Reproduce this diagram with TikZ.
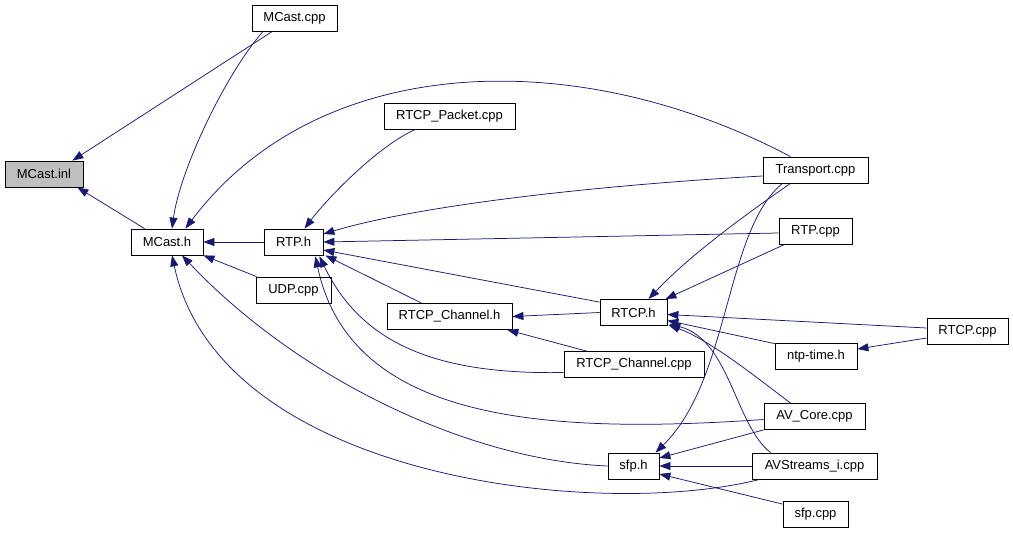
\documentclass[tikz,border=0pt]{standalone}
\usepackage{fontspec}
\setmainfont{Liberation Sans}
\usepackage{tikz}
\usetikzlibrary{arrows.meta, calc}
\definecolor{edgeblue}{RGB}{25,25,112}
\definecolor{boxgray}{RGB}{191,191,191}

\begin{document}
\begin{tikzpicture}[x=1pt, y=-1pt,
    file/.style={draw, line width=0.8pt, minimum height=26pt, inner sep=0pt, font=\fontsize{13}{15}\selectfont},
    dep/.style={draw=edgeblue, line width=0.75pt, -{Triangle[length=11pt, width=8pt]}}
]
\useasboundingbox (0,0) rectangle (1013,536);

% Files
\node[file, fill=boxgray, minimum width=78pt] (inl) at (44,174) {MCast.inl};
\node[file, minimum width=85pt] (mcpp) at (294.5,18.5) {MCast.cpp};
\node[file, minimum width=72pt] (mh) at (167,242) {MCast.h};
\node[file, minimum width=59pt] (rtph) at (293.5,242) {RTP.h};
\node[file, minimum width=131pt] (pkt) at (449.5,116.5) {RTCP\_Packet.cpp};
\node[file, minimum width=75pt] (udp) at (293.5,290) {UDP.cpp};
\node[file, minimum width=125pt] (chh) at (449.5,316.5) {RTCP\_Channel.h};
\node[file, minimum width=140pt] (chcpp) at (634,364.5) {RTCP\_Channel.cpp};
\node[file, minimum width=67pt] (rtcph) at (633.5,312.5) {RTCP.h};
\node[file, minimum width=105pt] (trans) at (815.5,170) {Transport.cpp};
\node[file, minimum width=73pt] (rtpcpp) at (815.5,231.5) {RTP.cpp};
\node[file, minimum width=81pt] (rtcpcpp) at (967.5,331.5) {RTCP.cpp};
\node[file, minimum width=82pt] (ntp) at (816,356) {ntp-time.h};
\node[file, minimum width=101pt] (avcore) at (814.5,416.5) {AV\_Core.cpp};
\node[file, minimum width=51pt] (sfph) at (633.5,466) {sfp.h};
\node[file, minimum width=125pt] (avs) at (814.5,466) {AVStreams\_i.cpp};
\node[file, minimum width=65pt] (sfpcpp) at (815.5,514.5) {sfp.cpp};

% Includes into MCast.inl and MCast.h
\draw[dep] ($(mcpp.south west)+(20,0)$) -- ($(inl.north east)+(-11,0)$);
\draw[dep] ($(mcpp.south west)+(11,0)$) .. controls (225,75) and (180,170) .. ($(mh.north)+(5,0)$);
\draw[dep] ($(mh.north west)+(14,0)$) -- ($(inl.south east)+(-6,0)$);
\draw[dep] ($(trans.north)+(-25,0)$) .. controls (580,45) and (320,50) .. ($(mh.north east)+(-18,0)$);
\draw[dep] (rtph.west) -- (mh.east);
\draw[dep] ($(udp.north west)+(1,0)$) -- (mh.south east);
\draw[dep] (sfph.west) .. controls (470,460) and (300,380) .. ($(mh.south)+(15,0)$);
\draw[dep] ($(avs.south west)+(8,0)$) .. controls (600,520) and (220,480) .. ($(mh.south)+(5,0)$);

% Includes into RTP.h
\draw[dep] ($(pkt.south)+(-35,0)$) .. controls (380,145) and (330,195) .. ($(rtph.north)+(11,0)$);
\draw[dep] ($(trans.west)+(0,6)$) .. controls (600,185) and (420,205) .. ($(rtph.east)+(0,-8)$);
\draw[dep] ($(rtpcpp.west)+(0,1.5)$) -- (rtph.east);
\draw[dep] ($(rtcph.north west)+(0,3)$) -- ($(rtph.east)+(0,8)$);
\draw[dep] ($(chh.north west)+(35,0)$) -- ($(rtph.south east)+(2,0)$);
\draw[dep] ($(chcpp.west)+(0,8)$) .. controls (430,375) and (360,340) .. ($(rtph.south east)+(-4,1)$);
\draw[dep] ($(avcore.west)+(0,3)$) .. controls (540,435) and (350,420) .. ($(rtph.south east)+(-8,1)$);

% Includes into RTCP_Channel.h and RTCP.h
\draw[dep] (rtcph.west) -- (chh.east);
\draw[dep] ($(chcpp.north west)+(23,0)$) -- ($(chh.south east)+(-5,0)$);
\draw[dep] ($(trans.south)+(-25,0)$) .. controls (745,215) and (690,255) .. ($(rtcph.north)+(15,0)$);
\draw[dep] ($(rtpcpp.south west)+(5,0)$) -- ($(rtcph.north east)+(-2,0)$);
\draw[dep] ($(rtcpcpp.west)+(0,-3.5)$) -- ($(rtcph.east)+(0,2)$);
\draw[dep] ($(ntp.north west)+(0,1)$) -- ($(rtcph.east)+(0,8)$);
\draw[dep] ($(rtcpcpp.west)+(0,6.5)$) -- ($(ntp.east)+(0,-7)$);
\draw[dep] ($(avcore.north)+(-24,0)$) .. controls (760,380) and (710,340) .. ($(rtcph.south east)+(1,-1)$);
\draw[dep] ($(avs.north west)+(19,0)$) .. controls (735,425) and (730,340) .. ($(rtcph.south east)+(2,-2)$);

% Includes into sfp.h
\draw[dep] ($(trans.south)+(-33,0)$) .. controls (725,230) and (730,380) .. ($(sfph.north)+(22,0)$);
\draw[dep] (avcore.south west) -- ($(sfph.east)+(0,-8)$);
\draw[dep] (avs.west) -- (sfph.east);
\draw[dep] ($(sfpcpp.north west)+(0,3)$) -- ($(sfph.east)+(0,8)$);

\end{tikzpicture}
\end{document}
